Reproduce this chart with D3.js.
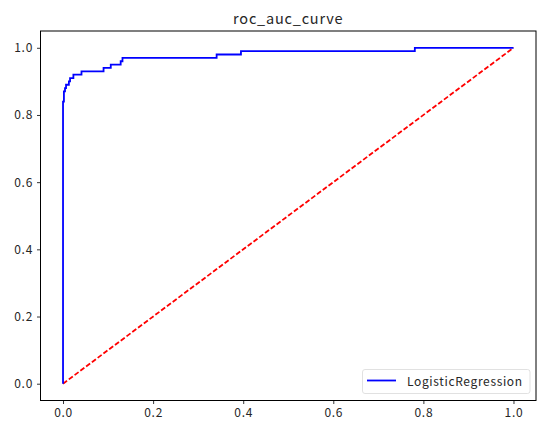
<!DOCTYPE html>
<html><head><meta charset="utf-8">
<script src="https://cdn.jsdelivr.net/npm/d3@7"></script>
<style>body{margin:0;background:#fff}svg{display:block}</style>
</head><body>
<script>
const fpr = [0, 0, 0.002, 0.002, 0.0044, 0.0044, 0.0067, 0.0067, 0.013, 0.013, 0.0156, 0.0156, 0.023, 0.023, 0.041, 0.041, 0.090, 0.090, 0.106, 0.106, 0.128, 0.128, 0.132, 0.132, 0.341, 0.341, 0.395, 0.395, 0.781, 0.781, 1.0];
const tpr = [0, 0.84, 0.84, 0.87, 0.87, 0.88, 0.88, 0.89, 0.89, 0.90, 0.90, 0.91, 0.91, 0.92, 0.92, 0.93, 0.93, 0.94, 0.94, 0.95, 0.95, 0.96, 0.96, 0.97, 0.97, 0.98, 0.98, 0.99, 0.99, 1.0, 1.0];
const diagX = [0, 1];
const diagY = [0, 1];
const ticks = [0, 0.2, 0.4, 0.6, 0.8, 1.0];
const title = "roc_auc_curve";
const seriesName = "LogisticRegression";

const W = 546, H = 433;
const L = 40.5, R = 536, T = 31, B = 400.5;
const font = "'Noto Sans CJK KR', 'Noto Sans', sans-serif";
const svg = d3.select("body").append("svg").attr("width", W).attr("height", H);
const x = d3.scaleLinear().domain([-0.05, 1.05]).range([L, R]);
const y = d3.scaleLinear().domain([-0.05, 1.05]).range([B, T]);

const line = d3.line().x(d => x(d[0])).y(d => y(d[1]));
svg.append("path").datum(diagX.map((v, i) => [v, diagY[i]]))
  .attr("d", line).attr("fill", "none").attr("stroke", "#ff0000")
  .attr("stroke-width", 1.8).attr("stroke-dasharray", "5,2.2");
svg.append("path").datum(fpr.map((v, i) => [v, tpr[i]]))
  .attr("d", line).attr("fill", "none").attr("stroke", "#0000ff")
  .attr("stroke-width", 1.8);

const xa = svg.append("g").attr("transform", `translate(0,${B})`)
  .call(d3.axisBottom(x).tickValues(ticks).tickFormat(d3.format(".1f")).tickSize(3.5).tickPadding(4));
const ya = svg.append("g").attr("transform", `translate(${L},0)`)
  .call(d3.axisLeft(y).tickValues(ticks).tickFormat(d3.format(".1f")).tickSize(3.5).tickPadding(4));
[xa, ya].forEach(a => {
  a.select(".domain").remove();
  a.selectAll("line").attr("stroke", "#000").attr("stroke-width", 0.8);
  a.selectAll("text").attr("font-family", font).attr("font-size", 12).attr("letter-spacing", "0.7px").attr("fill", "#262626");
});
svg.append("rect").attr("x", L).attr("y", T).attr("width", R - L).attr("height", B - T)
  .attr("fill", "none").attr("stroke", "#000").attr("stroke-width", 1);

svg.append("text").attr("x", (L + R) / 2).attr("y", 24).attr("text-anchor", "middle")
  .attr("font-family", font).attr("font-size", 14.5).attr("letter-spacing", "0.8px").attr("fill", "#262626").text(title);

const lg = svg.append("g");
lg.append("rect").attr("x", 362.5).attr("y", 369.5).attr("width", 167.5).attr("height", 24)
  .attr("rx", 2.5).attr("fill", "#fff").attr("fill-opacity", 0.8).attr("stroke", "#d9d9d9").attr("stroke-width", 0.8);
lg.append("line").attr("x1", 367).attr("x2", 396).attr("y1", 380.5).attr("y2", 380.5)
  .attr("stroke", "#0000ff").attr("stroke-width", 1.8);
lg.append("text").attr("x", 407).attr("y", 385.5).attr("font-family", font).attr("font-size", 12)
  .attr("letter-spacing", "0.65px").attr("fill", "#262626").text(seriesName);
</script>
</body></html>
